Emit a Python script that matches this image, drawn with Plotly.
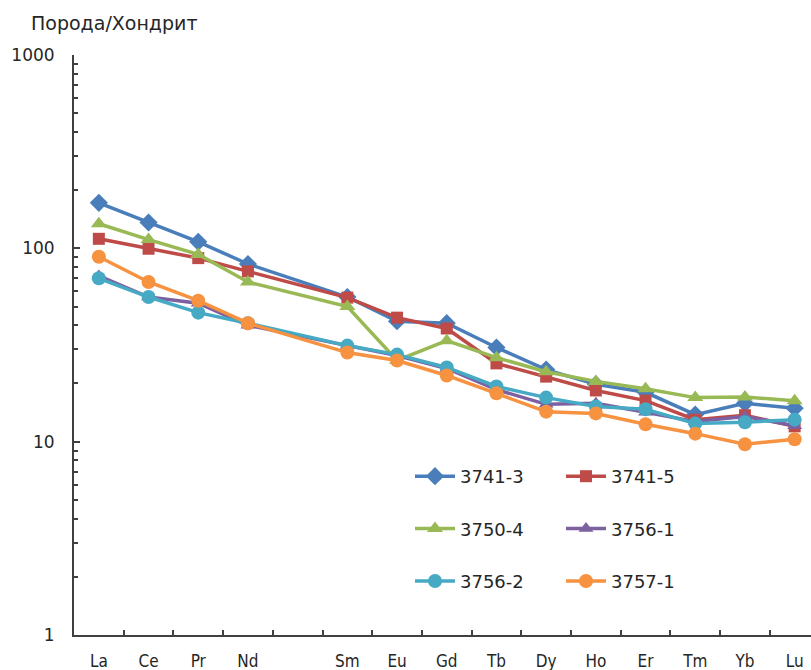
import plotly.graph_objects as go

elements = ["La", "Ce", "Pr", "Nd", "Pm", "Sm", "Eu", "Gd", "Tb", "Dy", "Ho", "Er", "Tm", "Yb", "Lu"]
tick_labels = ["La", "Ce", "Pr", "Nd", "", "Sm", "Eu", "Gd", "Tb", "Dy", "Ho", "Er", "Tm", "Yb", "Lu"]

s_3741_3 = [172, 136, 108, 83, None, 56, 42, 41, 30.7, 23.6, 19.8, 18.0, 13.8, 15.8, 14.9]
s_3741_5 = [112, 99.5, 89, 76, None, 55.6, 43.8, 38.5, 25.4, 21.7, 18.4, 16.3, 13.0, 13.7, 12.0]
s_3750_4 = [134, 111, 93, 67, None, 50, 26.3, 33.3, 27.2, 23.0, 20.5, 18.8, 16.9, 17.0, 16.3]
s_3756_1 = [72, 56, 52, 40, None, 31.4, 27.9, 23.9, 18.6, 15.6, 15.8, 14.2, 12.7, 13.5, 12.1]
s_3756_2 = [70, 56, 46.5, 41, None, 31.4, 28.2, 24.2, 19.3, 16.9, 15.2, 14.7, 12.4, 12.6, 13.0]
s_3757_1 = [90.5, 67, 53.6, 41, None, 28.9, 26.3, 22.0, 17.8, 14.3, 14.0, 12.3, 11.0, 9.7, 10.3]

series = [
    ("3741-3", s_3741_3, "#4A7EBB", "diamond", 14, "legend"),
    ("3741-5", s_3741_5, "#BE4B48", "square", 12, "legend2"),
    ("3750-4", s_3750_4, "#98B954", "triangle-up", 14, "legend"),
    ("3756-1", s_3756_1, "#7D60A0", "triangle-up", 13, "legend2"),
    ("3756-2", s_3756_2, "#46AAC5", "circle", 14, "legend"),
    ("3757-1", s_3757_1, "#F69240", "circle", 14, "legend2"),
]

x_pos = list(range(len(elements)))

fig = go.Figure()
for name, vals, color, sym, size, leg in series:
    fig.add_trace(go.Scatter(
        x=x_pos, y=vals, name=name, mode="lines+markers",
        connectgaps=True, legend=leg, legendgroup=name,
        line=dict(color=color, width=3.5),
        marker=dict(symbol=sym, size=size, color=color),
    ))

W, H = 811, 670
L, R, T, B = 74, 0, 55, 35
pw, ph = W - L - R, H - T - B

axis_color = "#404040"
font_main = "DejaVu Sans, Liberation Sans, Arial, sans-serif"

minor_y = [m * 10 ** k for k in range(3) for m in range(2, 10)]


def px_x(px):
    return (px - L) / pw


def px_y(py):
    return 1 - (py - T) / ph


fig.update_layout(
    width=W, height=H,
    margin=dict(l=L, r=R, t=T, b=B, autoexpand=False),
    paper_bgcolor="white", plot_bgcolor="white",
    font=dict(family=font_main, color="#262626", size=17),
    xaxis=dict(
        range=[-0.5, -0.5 + pw / 49.7],
        tickmode="array", tickvals=x_pos, ticktext=tick_labels, tickangle=0,
        ticks="", showgrid=False, zeroline=False,
        showline=True, linecolor=axis_color, linewidth=2,
        tickfont=dict(family="DejaVu Sans Condensed, Liberation Sans Narrow, sans-serif", size=17, color="#262626"),
        ticklabelstandoff=10,
        minor=dict(tickmode="array", tickvals=[i + 0.5 for i in range(14)],
                   ticks="inside", ticklen=5, tickwidth=1.5, tickcolor=axis_color, showgrid=False),
    ),
    yaxis=dict(
        type="log", range=[0, 3],
        tickmode="array", tickvals=[1, 10, 100, 1000], ticktext=["1", "10", "100", "1000"],
        ticks="inside", ticklen=6, tickwidth=1.5, tickcolor=axis_color,
        showgrid=False, zeroline=False,
        showline=True, linecolor=axis_color, linewidth=2,
        tickfont=dict(family=font_main, size=17, color="#262626"),
        ticklabelstandoff=14,
        minor=dict(tickmode="array", tickvals=minor_y, ticks="inside", ticklen=4,
                   tickwidth=1.5, tickcolor=axis_color, showgrid=False),
    ),
    legend=dict(
        x=px_x(410), y=px_y(458),
        xanchor="left", yanchor="top", bgcolor="rgba(0,0,0,0)",
        font=dict(family=font_main, size=18, color="#262626"),
        tracegroupgap=26, itemsizing="trace", itemwidth=40,
    ),
    legend2=dict(
        x=px_x(561), y=px_y(458),
        xanchor="left", yanchor="top", bgcolor="rgba(0,0,0,0)",
        font=dict(family=font_main, size=18, color="#262626"),
        tracegroupgap=26, itemsizing="trace", itemwidth=40,
    ),
    annotations=[dict(
        text="Порода/Хондрит", xref="paper", yref="paper",
        x=px_x(29), y=px_y(23), xanchor="left", yanchor="middle",
        showarrow=False, font=dict(family=font_main, size=19, color="#262626"),
    )],
)

fig.write_html("out.html")
